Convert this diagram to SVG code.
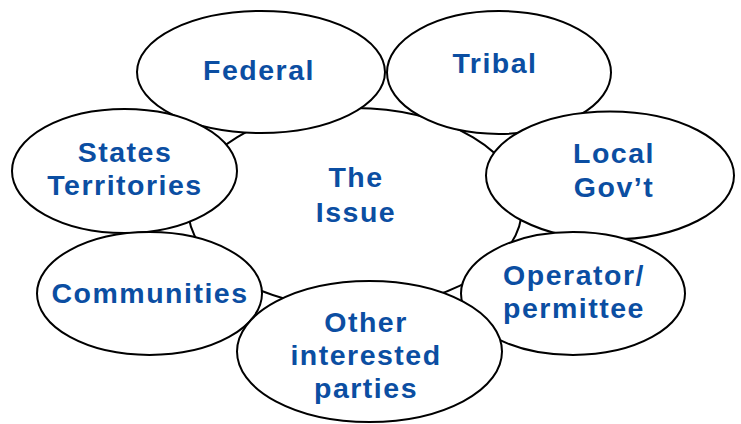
<svg xmlns="http://www.w3.org/2000/svg" width="741" height="424" viewBox="0 0 741 424">
  <style>
    .bubble { fill: #ffffff; stroke: #000000; stroke-width: 2; }
    .label { font-family: "Liberation Sans", Arial, sans-serif; font-weight: bold; font-size: 28.5px; letter-spacing: 1.5px; fill: #0b4ea2; text-anchor: middle; }
  </style>
  <rect width="741" height="424" fill="#ffffff"/>

  <!-- central topic -->
  <g id="issue">
    <ellipse class="bubble" cx="355" cy="208" rx="167" ry="100"/>
    <text class="label" x="356" y="187">The</text>
    <text class="label" x="356" y="222">Issue</text>
  </g>

  <!-- surrounding stakeholders -->
  <g id="federal">
    <ellipse class="bubble" cx="261" cy="72" rx="124" ry="61"/>
    <text class="label" x="259" y="80">Federal</text>
  </g>
  <g id="tribal">
    <ellipse class="bubble" cx="499" cy="72.5" rx="112" ry="61.5"/>
    <text class="label" x="495" y="73">Tribal</text>
  </g>
  <g id="states">
    <ellipse class="bubble" cx="124.5" cy="171" rx="112.5" ry="62"/>
    <text class="label" x="125" y="162">States</text>
    <text class="label" x="125" y="195">Territories</text>
  </g>
  <g id="local">
    <ellipse class="bubble" cx="610" cy="175.5" rx="124" ry="64"/>
    <text class="label" x="614" y="163">Local</text>
    <text class="label" x="614" y="197">Gov’t</text>
  </g>
  <g id="communities">
    <ellipse class="bubble" cx="149.5" cy="293.5" rx="112.5" ry="61.5"/>
    <text class="label" x="150" y="303">Communities</text>
  </g>
  <g id="operator">
    <ellipse class="bubble" cx="573" cy="293.5" rx="112" ry="61.5"/>
    <text class="label" x="574" y="285">Operator/</text>
    <text class="label" x="574" y="318">permittee</text>
  </g>
  <g id="other">
    <ellipse class="bubble" cx="369.5" cy="351.5" rx="132.5" ry="70.5"/>
    <text class="label" x="366" y="332">Other</text>
    <text class="label" x="366" y="365">interested</text>
    <text class="label" x="366" y="398">parties</text>
  </g>

  <!-- no connectors: the bubbles touch the central topic directly -->
  <g id="connectors"/>
</svg>
